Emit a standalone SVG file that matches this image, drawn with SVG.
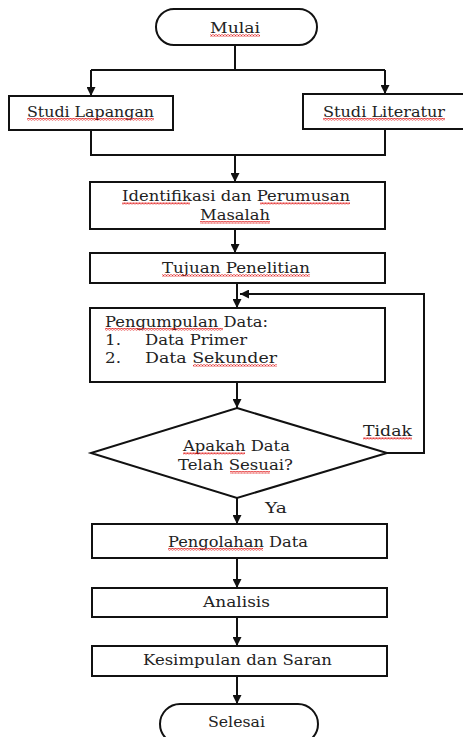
<svg xmlns="http://www.w3.org/2000/svg" width="463" height="737" viewBox="0 0 463 737">
<style>
.box{fill:#fff;stroke:#111;stroke-width:2}
.ln{fill:none;stroke:#111;stroke-width:2}
text{font-family:'DejaVu Serif','Liberation Serif',serif;font-size:14px;fill:#222}
.sq{fill:url(#sq)}
</style>
<defs>
<marker id="ah" viewBox="0 0 10 10" refX="10" refY="5" markerWidth="4.5" markerHeight="4.5" orient="auto" markerUnits="strokeWidth">
<path d="M0 0 L10 5 L0 10 Z" fill="#111"/>
</marker>
<pattern id="sq" width="3" height="2.5" patternUnits="userSpaceOnUse">
<path d="M0 2 L1.5 0.5 L3 2" stroke="#e01010" stroke-width="0.9" fill="none"/>
</pattern>
</defs>
<rect width="463" height="737" fill="#fff"/>
<g id="connectors">
<path class="ln" d="M235 45 V70"/>
<path class="ln" d="M91 70 H385"/>
<path class="ln" d="M91 70 V96" marker-end="url(#ah)"/>
<path class="ln" d="M385 70 V94" marker-end="url(#ah)"/>
<path class="ln" d="M91 130 V155 H385 V129"/>
<path class="ln" d="M235 155 V182" marker-end="url(#ah)"/>
<path class="ln" d="M235 229 V253" marker-end="url(#ah)"/>
<path class="ln" d="M237 283 V308" marker-end="url(#ah)"/>
<path class="ln" d="M237 382 V408" marker-end="url(#ah)"/>
<path class="ln" d="M387 453 H424 V294 H240" marker-end="url(#ah)"/>
<path class="ln" d="M237 498 V524" marker-end="url(#ah)"/>
<path class="ln" d="M237 558 V588" marker-end="url(#ah)"/>
<path class="ln" d="M237 617 V646" marker-end="url(#ah)"/>
<path class="ln" d="M237 676 V704" marker-end="url(#ah)"/>
<text x="363" y="436" textLength="49" lengthAdjust="spacingAndGlyphs">Tidak</text>
<rect class="sq" x="363" y="437" width="49" height="2.5"/>
<text x="265" y="513" textLength="22" lengthAdjust="spacingAndGlyphs">Ya</text>
</g>
<g id="mulai">
<rect class="box" x="156" y="9" width="161" height="36" rx="18"/>
<text x="210" y="33" textLength="50" lengthAdjust="spacingAndGlyphs">Mulai</text>
<rect class="sq" x="210" y="34" width="50" height="2.5"/>
</g>
<g id="studi-lapangan">
<rect class="box" x="9" y="96" width="164" height="34"/>
<text x="27" y="117" textLength="127" lengthAdjust="spacingAndGlyphs">Studi Lapangan</text>
<rect class="sq" x="27" y="118" width="127" height="2.5"/>
</g>
<g id="studi-literatur">
<rect class="box" x="303" y="94" width="170" height="35"/>
<text x="323" y="117" textLength="122" lengthAdjust="spacingAndGlyphs">Studi Literatur</text>
<rect class="sq" x="323" y="118" width="122" height="2.5"/>
</g>
<g id="identifikasi">
<rect class="box" x="90" y="182" width="295" height="47"/>
<text x="122" y="201" textLength="228" lengthAdjust="spacingAndGlyphs">Identifikasi dan Perumusan</text>
<rect class="sq" x="122" y="202" width="68" height="2.5"/>
<rect class="sq" x="260" y="202" width="90" height="2.5"/>
<text x="200" y="220" textLength="70" lengthAdjust="spacingAndGlyphs">Masalah</text>
<rect class="sq" x="200" y="221" width="70" height="2.5"/>
</g>
<g id="tujuan">
<rect class="box" x="90" y="253" width="295" height="30"/>
<text x="162" y="273" textLength="148" lengthAdjust="spacingAndGlyphs">Tujuan Penelitian</text>
<rect class="sq" x="162" y="274" width="148" height="2.5"/>
</g>
<g id="pengumpulan">
<rect class="box" x="90" y="308" width="295" height="74"/>
<text x="105" y="327" textLength="163" lengthAdjust="spacingAndGlyphs">Pengumpulan Data:</text>
<rect class="sq" x="105" y="328" width="118" height="2.5"/>
<text x="105" y="345" textLength="16" lengthAdjust="spacingAndGlyphs">1.</text>
<text x="145" y="345" textLength="102" lengthAdjust="spacingAndGlyphs">Data Primer</text>
<text x="105" y="363" textLength="16" lengthAdjust="spacingAndGlyphs">2.</text>
<text x="145" y="363" textLength="132" lengthAdjust="spacingAndGlyphs">Data Sekunder</text>
<rect class="sq" x="193" y="364" width="84" height="2.5"/>
</g>
<g id="keputusan">
<path class="box" d="M237 408 L387 453 L237 498 L91 453 Z"/>
<text x="183" y="451" textLength="107" lengthAdjust="spacingAndGlyphs">Apakah Data</text>
<rect class="sq" x="183" y="452" width="62" height="2.5"/>
<text x="178" y="470" textLength="115" lengthAdjust="spacingAndGlyphs">Telah Sesuai?</text>
<rect class="sq" x="230" y="471" width="40" height="2.5"/>
</g>
<g id="pengolahan">
<rect class="box" x="92" y="524" width="295" height="34"/>
<text x="168" y="547" textLength="140" lengthAdjust="spacingAndGlyphs">Pengolahan Data</text>
<rect class="sq" x="168" y="548" width="95" height="2.5"/>
</g>
<g id="analisis">
<rect class="box" x="92" y="588" width="295" height="29"/>
<text x="203" y="607" textLength="67" lengthAdjust="spacingAndGlyphs">Analisis</text>
</g>
<g id="kesimpulan">
<rect class="box" x="92" y="646" width="295" height="30"/>
<text x="143" y="665" textLength="189" lengthAdjust="spacingAndGlyphs">Kesimpulan dan Saran</text>
</g>
<g id="selesai">
<rect class="box" x="160" y="704" width="158" height="40" rx="20"/>
<text x="208" y="727" textLength="57" lengthAdjust="spacingAndGlyphs">Selesai</text>
</g>
</svg>
